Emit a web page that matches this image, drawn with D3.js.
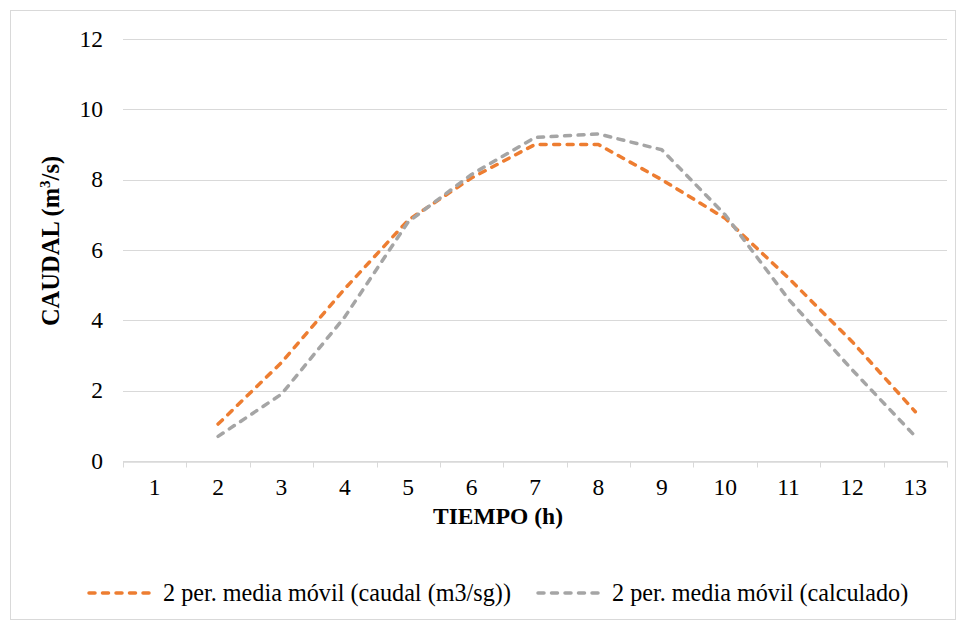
<!DOCTYPE html>
<html>
<head>
<meta charset="utf-8">
<script src="https://cdn.jsdelivr.net/npm/d3@7/dist/d3.min.js"></script>
<style>
  body { margin: 0; background: #fff; }
</style>
</head>
<body>
<svg id="chart" width="966" height="624"></svg>
<script>
// hours on the x axis
var hours = [1, 2, 3, 4, 5, 6, 7, 8, 9, 10, 11, 12, 13];
// 2 period moving average, measured flow (null = no value)
var caudalMedia = [null, 1.05, 2.8, 4.9, 6.85, 8.05, 9.0, 9.0, 8.0, 6.9, 5.2, 3.4, 1.4];
// 2 period moving average, calculated flow
var calculadoMedia = [null, 0.7, 1.9, 4.1, 6.8, 8.15, 9.2, 9.3, 8.85, 7.0, 4.6, 2.6, 0.7];
var yTicks = [0, 2, 4, 6, 8, 10, 12];

var seriesNames = ["2 per. media móvil (caudal (m3/sg))", "2 per. media móvil (calculado)"];
var seriesColors = ["#ED7D31", "#A5A5A5"];

var FONT = "Liberation Serif";
var FS = "23.5px";

var svg = d3.select("#chart");
var margin = { left: 123, right: 19, top: 39, bottom: 163 };
var W = 966, H = 624;

// outer frame
svg.append("rect")
  .attr("x", 10.5).attr("y", 10.5)
  .attr("width", 945).attr("height", 609)
  .attr("fill", "#fff").attr("stroke", "#d9d9d9");

var x = d3.scaleBand()
  .domain(hours)
  .range([margin.left, W - margin.right])
  .padding(0);

var y = d3.scaleLinear()
  .domain([0, 12])
  .range([H - margin.bottom, margin.top]);

// gridlines
svg.append("g").selectAll("line")
  .data(yTicks)
  .enter()
  .append("line")
  .attr("x1", margin.left).attr("x2", W - margin.right)
  .attr("y1", function(d){ return Math.round(y(d)) + 0.5; })
  .attr("y2", function(d){ return Math.round(y(d)) + 0.5; })
  .attr("stroke", "#d9d9d9").attr("stroke-width", 1);

// y labels
svg.append("g").selectAll("text")
  .data(yTicks)
  .enter()
  .append("text")
  .attr("x", 103)
  .attr("y", function(d){ return y(d); })
  .attr("dy", "0.33em")
  .attr("text-anchor", "end")
  .style("font-family", FONT)
  .style("font-size", FS)
  .text(function(d){ return d; });

// x axis line, tick marks at the category boundaries
var xAxis = d3.axisBottom(x).tickSize(0).tickPadding(17);
var gx = svg.append("g")
  .attr("transform", "translate(0," + (Math.round(y(0)) + 0.5) + ")")
  .call(xAxis);
gx.attr("font-family", FONT);
gx.select(".domain").attr("stroke", "#d9d9d9").attr("stroke-width", 1.5);
gx.selectAll(".tick text")
  .style("font-size", FS)
  .style("font-family", FONT)
  .attr("fill", "#000");

var bounds = hours.map(function(h){ return x(h); }).concat([x(hours[hours.length - 1]) + x.bandwidth()]);
gx.selectAll(".bound")
  .data(bounds)
  .enter()
  .append("line")
  .attr("class", "bound")
  .attr("x1", function(d){ return Math.round(d) + 0.5; })
  .attr("x2", function(d){ return Math.round(d) + 0.5; })
  .attr("y1", 0).attr("y2", 6)
  .attr("stroke", "#d9d9d9").attr("stroke-width", 1);

// series lines
var line = d3.line()
  .defined(function(d){ return d.v !== null; })
  .x(function(d){ return x(d.h) + x.bandwidth() / 2; })
  .y(function(d){ return y(d.v); });

[caudalMedia, calculadoMedia].forEach(function(vals, i){
  var pts = hours.map(function(h, j){ return { h: h, v: vals[j] }; });
  svg.append("path")
    .datum(pts)
    .attr("d", line)
    .attr("fill", "none")
    .attr("stroke", seriesColors[i])
    .attr("stroke-width", 3.5)
    .attr("stroke-linecap", "round")
    .attr("stroke-linejoin", "round")
    .attr("stroke-dasharray", "6,7.5");
});

// axis titles
svg.append("text")
  .attr("x", 498).attr("y", 524)
  .attr("text-anchor", "middle")
  .style("font-family", FONT)
  .style("font-size", FS).style("font-weight", "bold")
  .text("TIEMPO (h)");

var yt = svg.append("text")
  .attr("transform", "translate(59,241) rotate(-90)")
  .attr("text-anchor", "middle")
  .style("font-family", FONT)
  .style("font-size", "24.5px").style("font-weight", "bold");
yt.append("tspan").text("CAUDAL (m");
yt.append("tspan").attr("dy", -9).style("font-size", "15px").text("3");
yt.append("tspan").attr("dy", 9).text("/s)");

// legend
var legendX = [88, 537];
var lg = svg.append("g").selectAll("g")
  .data(seriesNames)
  .enter()
  .append("g")
  .attr("transform", function(d, i){ return "translate(" + legendX[i] + ",593)"; });
lg.append("line")
  .attr("x1", 1).attr("x2", 68)
  .attr("y1", 0).attr("y2", 0)
  .attr("stroke", function(d, i){ return seriesColors[i]; })
  .attr("stroke-width", 3.5)
  .attr("stroke-linecap", "round")
  .attr("stroke-dasharray", "6,7.5");
lg.append("text")
  .attr("x", 75).attr("y", 0).attr("dy", "0.33em")
  .style("font-family", FONT)
  .style("font-size", "24.2px")
  .text(function(d){ return d; });
</script>
</body>
</html>
